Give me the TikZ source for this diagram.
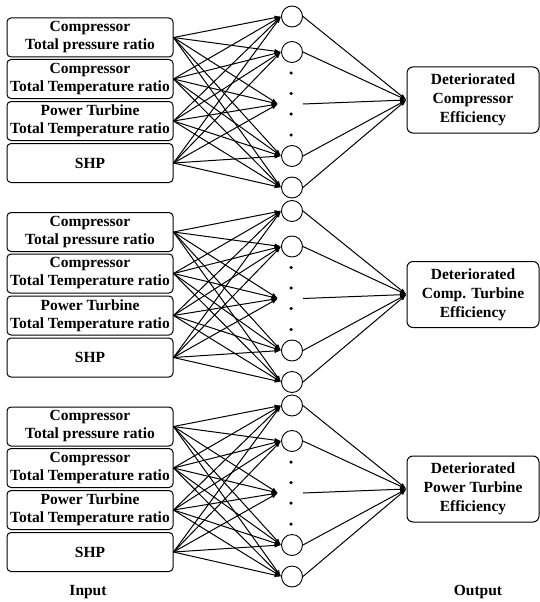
\documentclass[tikz,border=0pt]{standalone}
\usepackage{fontspec}
\setmainfont{Liberation Serif}
\usetikzlibrary{arrows.meta}
\begin{document}
\begin{tikzpicture}[x=1pt,y=-1pt,
  inbox/.style={draw, rounded corners=4pt, line width=1pt, minimum width=166pt, minimum height=39pt, inner sep=0pt, align=center, font=\fontsize{15.5}{18}\selectfont\bfseries},
  outbox/.style={draw, rounded corners=6pt, line width=1pt, minimum width=132pt, minimum height=66pt, inner sep=0pt, align=center, font=\fontsize{15.5}{19}\selectfont\bfseries},
  neuron/.style={draw, circle, minimum size=21pt, inner sep=0pt, line width=0.9pt, fill=white},
  wire/.style={line width=1pt, -{Latex[length=6.5pt,width=4.5pt]}},
  dotmark/.style={circle, fill=black, inner sep=0pt, minimum size=3.5pt},
  lab/.style={font=\fontsize{15.5}{18}\selectfont\bfseries}
  ]
\useasboundingbox (0,0) rectangle (540,602);

\foreach \b/\off/\outtxt in {1/0/{Deteriorated\\Compressor\\Efficiency},
                            2/194.5/{Deteriorated\\Comp. Turbine\\Efficiency},
                            3/389/{Deteriorated\\Power Turbine\\Efficiency}} {
  % inputs
  \node[inbox] (in\b-1) at (90,37.5+\off) {Compressor\\Total pressure ratio};
  \node[inbox] (in\b-2) at (90,79+\off) {Compressor\\Total Temperature ratio};
  \node[inbox] (in\b-3) at (90,121+\off) {Power Turbine\\Total Temperature ratio};
  \node[inbox] (in\b-4) at (90,163+\off) {SHP};
  % hidden
  \node[neuron] (h\b-1) at (292,16.5+\off) {};
  \node[neuron] (h\b-2) at (292,52+\off) {};
  \node[neuron] (h\b-4) at (292,156+\off) {};
  \node[neuron] (h\b-5) at (292,187.5+\off) {};
  \coordinate (h\b-3) at (278,104+\off);
  \coordinate (m\b) at (303,104+\off);
  \node[dotmark] (d\b-1) at (291,73+\off) {};
  \node[dotmark] (d\b-2) at (291,93.5+\off) {};
  \node[dotmark] (d\b-3) at (291,114+\off) {};
  \node[dotmark] (d\b-4) at (291,135+\off) {};
  % output
  \node[outbox] (o\b) at (473,100+\off) {\outtxt};
  % connections
  \foreach \i in {1,...,4} {
    \foreach \j in {1,2,4,5} {
      \draw[wire] (in\b-\i.east) -- (h\b-\j.west);
    }
    \draw[wire] (in\b-\i.east) -- (h\b-3);
  }
  \foreach \j in {1,2,4,5} {
    \draw[wire] (h\b-\j.east) -- (o\b.west);
  }
  \draw[wire] (m\b) -- (o\b.west);
}

\node[lab] (inlab) at (88,592) {Input};
\node[lab] (outlab) at (478,592) {Output};
\end{tikzpicture}
\end{document}
